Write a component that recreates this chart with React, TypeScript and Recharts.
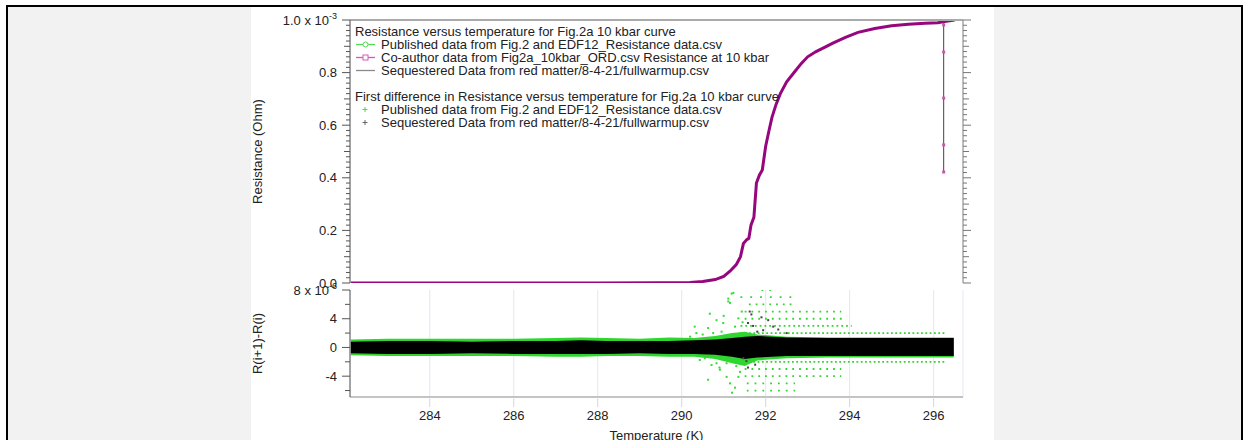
import React from 'react';
import { ComposedChart, Line, Area, Scatter, XAxis, YAxis, CartesianGrid } from 'recharts';

const FONT = '"Liberation Sans", Arial, Helvetica, sans-serif';
const INK = '#222';
const PURPLE = '#96067f';
const GREEN = '#2fd62f';

// upper panel: resistance (x 1e-3 Ohm) vs temperature (K)
const curveT = [282.12, 284, 286, 288, 289.5, 290.2, 290.5, 290.8, 291.0, 291.15, 291.3, 291.4, 291.47, 291.55, 291.6, 291.65, 291.72, 291.78, 291.85, 291.92, 292.0, 292.08, 292.15, 292.25, 292.35, 292.5, 292.7, 292.85, 293.0, 293.2, 293.45, 293.6, 293.9, 294.2, 294.6, 295.0, 295.4, 295.8, 296.1, 296.3, 296.5];
const curveR = [0, 0, 0, 0, 0.001, 0.002, 0.006, 0.013, 0.025, 0.045, 0.07, 0.1, 0.15, 0.165, 0.17, 0.22, 0.25, 0.38, 0.41, 0.43, 0.52, 0.58, 0.63, 0.68, 0.72, 0.765, 0.805, 0.835, 0.86, 0.88, 0.9, 0.912, 0.934, 0.953, 0.968, 0.978, 0.984, 0.988, 0.99, 0.995, 1.0];

// co-author points with the vertical bar near the end
const barTemp = 296.24;
const barTop = 1.0;
const barMarks = [0.981, 0.878, 0.703, 0.525, 0.422];

// lower panel: first difference (x 1e-6), dense band edges
const bandT = [282.12, 283, 284, 285, 286, 287, 287.6, 288.2, 289, 289.7, 290.3, 290.8, 291.2, 291.5, 291.8, 292.5, 293.5, 294.5, 295.5, 296.48];
const greenHi = [1.1, 1.2, 1.2, 1.2, 1.2, 1.3, 1.4, 1.3, 1.2, 1.4, 1.3, 1.6, 2.0, 2.2, 1.8, 1.5, 1.4, 1.4, 1.4, 1.4];
const greenLo = [-1.1, -1.2, -1.2, -1.2, -1.2, -1.3, -1.3, -1.2, -1.2, -1.3, -1.3, -1.6, -2.2, -2.6, -1.8, -1.5, -1.4, -1.4, -1.4, -1.4];
const blackHi = [0.8, 0.9, 0.9, 0.8, 0.9, 0.9, 1.0, 0.9, 0.9, 0.9, 1.0, 1.1, 1.3, 1.5, 1.6, 1.4, 1.3, 1.3, 1.3, 1.3];
const blackLo = [-0.8, -0.9, -0.9, -0.8, -0.9, -0.9, -0.9, -0.9, -0.8, -0.9, -0.9, -1.0, -1.3, -1.6, -1.4, -1.2, -1.2, -1.2, -1.2, -1.2];

// quantised rows of published-data differences
const rowLevel = [8, 7, 6, 5, 4, 3, 2, -2, -3, -4, -5, -6, -7];
const rowFrom = [291.9, 291.4, 291.6, 291.5, 291.5, 291.4, 291.4, 291.5, 291.5, 291.5, 291.55, 291.55, 291.55];
const rowTo = [292.2, 292.7, 292.65, 293.8, 293.9, 294.05, 296.3, 296.3, 293.8, 293.8, 292.7, 292.7, 292.7];
const rowGap = [6, 8, 5, 5, 5, 3, 2.5, 2.5, 5, 5, 6, 6, 6];

// loose points in the transition
const greenPtT = [291.23, 291.11, 291.15, 290.67, 290.83, 290.99, 290.63, 290.75, 290.35, 290.43, 290.71, 290.91, 291.07, 290.63, 291.15, 291.27, 291.35, 291.39, 291.07, 291.27, 291.35, 291.43, 290.95, 290.99, 290.55, 290.83, 291.2, 291.19, 290.31, 291.11, 290.5, 290.9, 291.3, 290.2, 291.45, 291.0];
const greenPtD = [7.6, 6.8, 6.2, 4.7, 3.8, 3.4, 2.7, 2.0, 2.0, -1.75, -2.45, -3.1, -4.1, -4.5, -5.0, -5.6, -4.1, -3.4, -2.2, 2.9, 4.05, 5.0, 2.2, -1.5, -1.5, -2.2, -6.3, 7.5, 2.9, 6.4, 1.8, -2.8, -2.6, 1.5, 3.5, 4.4];
const blackPtT = [291.62, 291.66, 291.58, 291.7, 292.06, 291.94, 292.18, 291.47, 291.54, 291.58, 291.8, 292.3, 291.75, 291.9, 292.5];
const blackPtD = [5.0, 4.6, 3.4, 3.0, 3.8, 2.4, 2.9, -1.5, -1.9, -2.8, 2.2, 2.5, -2.4, 4.2, 2.0];

const xTicks = [284, 286, 288, 290, 292, 294, 296];
const rTicks = Array.from({ length: 51 }, (_, i) => +(i * 0.02).toFixed(2));
const dTicks = [-6, -4, -2, 0, 2, 4, 6, 8];

const legendTop = 'Resistance versus temperature for Fig.2a 10 kbar curve';
const legendTopRows = [
  { label: 'Published data from Fig.2 and EDF12_Resistance data.csv', color: '#55d855', mark: 'circle' },
  { label: 'Co-author data from Fig2a_10kbar_ORD.csv Resistance at 10 kbar', color: '#dd55bb', mark: 'square' },
  { label: 'Sequestered Data from red matter/8-4-21/fullwarmup.csv', color: '#8a8a8a', mark: 'none' },
];
const legendBottom = 'First difference in Resistance versus temperature for Fig.2a 10 kbar curve';
const legendBottomRows = [
  { label: 'Published data from Fig.2 and EDF12_Resistance data.csv', color: '#44dd44' },
  { label: 'Sequestered Data from red matter/8-4-21/fullwarmup.csv', color: '#666' },
];

const curveData = curveT.map((t, i) => ({ t, r: curveR[i] }));
const barLine = [{ t: barTemp, r: barMarks[barMarks.length - 1] }, { t: barTemp, r: barTop }];
const barPts = barMarks.map((r) => ({ t: barTemp, r }));
const bandData = bandT.map((t, i) => ({ t, g: [greenLo[i], greenHi[i]], k: [blackLo[i], blackHi[i]] }));
const greenPts = greenPtT.map((t, i) => ({ t, d: greenPtD[i] }));
const blackPts = blackPtT.map((t, i) => ({ t, d: blackPtD[i] }));

const isMult = (v: number, step: number) => Math.abs(v / step - Math.round(v / step)) < 1e-6;

const RTickLeft = (props: any) => {
  const { x, y, payload } = props;
  const v = payload.value;
  const major = isMult(v, 0.2);
  const len = major ? 8 : isMult(v, 0.1) ? 6 : 4;
  return (
    <g>
      <line x1={x - len} x2={x} y1={y} y2={y} stroke="#555" />
      {major && (
        <text x={x - 13} y={y} dy="0.35em" textAnchor="end" fontSize={13} fill={INK}>
          {v === 1 ? (
            <>
              1.0 x 10<tspan dy={-6} fontSize={9}>-3</tspan>
            </>
          ) : (
            v.toFixed(1)
          )}
        </text>
      )}
    </g>
  );
};

const RTickRight = (props: any) => {
  const { x, y, payload } = props;
  const v = payload.value;
  const len = isMult(v, 0.2) ? 8 : isMult(v, 0.1) ? 6 : 4;
  return <line x1={x} x2={x + len} y1={y} y2={y} stroke="#777" />;
};

const DTick = (props: any) => {
  const { x, y, payload } = props;
  const v = payload.value;
  const major = isMult(v, 4);
  return (
    <g>
      <line x1={x - (major ? 8 : 5)} x2={x} y1={y} y2={y} stroke="#555" />
      {major && (
        <text x={x - 13} y={y} dy="0.35em" textAnchor="end" fontSize={13} fill={INK}>
          {v === 8 ? (
            <>
              8 x 10<tspan dy={-6} fontSize={9}>-6</tspan>
            </>
          ) : (
            String(v)
          )}
        </text>
      )}
    </g>
  );
};

const AxisTitle = (props: any) => {
  const vb = props.viewBox;
  if (!vb) return null;
  const x = vb.x + vb.width - 93;
  const y = vb.y + vb.height / 2;
  return (
    <text x={x} y={y} dy="0.35em" textAnchor="middle" fontSize={13} fill={INK} transform={`rotate(-90 ${x} ${y})`}>
      {props.text}
    </text>
  );
};

const PinkMark = (p: any) => <rect x={p.cx - 1.5} y={p.cy - 1.5} width={3} height={3} fill="#cc55aa" />;
const GreenDot = (p: any) => <rect x={p.cx - 1} y={p.cy - 1} width={2} height={2} fill="#33dd33" />;
const BlackDot = (p: any) => <rect x={p.cx - 1} y={p.cy - 1} width={2} height={2} fill="#444" />;

const LegendMark = ({ color, mark, plus }: { color: string; mark?: string; plus?: boolean }) => (
  <svg width={26} height={13} style={{ display: 'block', flex: 'none' }}>
    {plus ? (
      <g stroke={color} strokeWidth={1}>
        <line x1={7.5} x2={12.5} y1={6.5} y2={6.5} />
        <line x1={10} x2={10} y1={4} y2={9} />
      </g>
    ) : (
      <g>
        <line x1={1} x2={20} y1={6.5} y2={6.5} stroke={color} strokeWidth={1.3} />
        {mark === 'circle' && <circle cx={10.5} cy={6.5} r={2.5} fill="#fff" stroke={color} />}
        {mark === 'square' && <rect x={8} y={4} width={5} height={5} fill="#fff" stroke={color} />}
      </g>
    )}
  </svg>
);

const ChartLegend = () => {
  const row: React.CSSProperties = { display: 'flex', alignItems: 'center', height: 13, whiteSpace: 'nowrap' };
  return (
    <div style={{ position: 'absolute', left: 355, top: 25, fontSize: 13, lineHeight: '13px', color: INK }}>
      <div style={row}>{legendTop}</div>
      {legendTopRows.map((r) => (
        <div key={r.label} style={row}>
          <LegendMark color={r.color} mark={r.mark} />
          <span>{r.label}</span>
        </div>
      ))}
      <div style={row} />
      <div style={row}>{legendBottom}</div>
      {legendBottomRows.map((r) => (
        <div key={r.label} style={row}>
          <LegendMark color={r.color} plus />
          <span>{r.label}</span>
        </div>
      ))}
    </div>
  );
};

export default function App() {
  return (
    <div style={{ position: 'absolute', left: 0, top: 0, width: 1249, height: 440, overflow: 'hidden', fontFamily: FONT }}>
      <div style={{ position: 'absolute', left: 6, top: 5, width: 1233, height: 440, border: '2px solid #000', background: '#f2f2f2' }} />
      <div style={{ position: 'absolute', left: 251, top: 7, width: 743, height: 433, background: '#fff' }} />

      {/* lower panel: first differences */}
      <div style={{ position: 'absolute', left: 0, top: 0 }}>
        <ComposedChart width={1249} height={440} data={bandData} margin={{ top: 290, right: 286, bottom: 0, left: 290 }}>
          <CartesianGrid vertical horizontal={false} stroke="#e6e6f4" />
          <XAxis
            type="number"
            dataKey="t"
            domain={[282.1, 296.7]}
            allowDataOverflow
            ticks={xTicks}
            interval={0}
            height={43}
            tickSize={10}
            tickMargin={4}
            tickLine={{ stroke: '#d4d4e8' }}
            axisLine={{ stroke: '#888' }}
            tick={{ fontSize: 13, fill: INK }}
            label={{ value: 'Temperature (K)', position: 'insideBottom', offset: 0, fontSize: 13, fill: INK }}
          />
          <YAxis
            type="number"
            dataKey="d"
            domain={[-6.9, 8]}
            allowDataOverflow
            ticks={dTicks}
            interval={0}
            width={60}
            tickSize={0}
            tickMargin={0}
            tickLine={false}
            axisLine={{ stroke: '#555' }}
            tick={(p: any) => <DTick {...p} />}
            label={<AxisTitle text="R(i+1)-R(i)" />}
          />
          <Area dataKey="g" type="linear" stroke="none" fill={GREEN} fillOpacity={1} isAnimationActive={false} />
          <Area dataKey="k" type="linear" stroke="none" fill="#000" fillOpacity={1} isAnimationActive={false} />
          {rowLevel.map((lv, i) => (
            <Line
              key={'row' + i}
              data={[{ t: rowFrom[i], d: lv }, { t: rowTo[i], d: lv }]}
              dataKey="d"
              stroke={GREEN}
              strokeWidth={1.8}
              strokeDasharray={`1.8 ${rowGap[i]}`}
              dot={false}
              isAnimationActive={false}
            />
          ))}
          <Scatter data={greenPts} shape={GreenDot} isAnimationActive={false} />
          <Scatter data={blackPts} shape={BlackDot} isAnimationActive={false} />
        </ComposedChart>
      </div>

      {/* upper panel: resistance */}
      <div style={{ position: 'absolute', left: 0, top: 0 }}>
        <ComposedChart width={1249} height={300} data={curveData} margin={{ top: 10, right: 256, bottom: 17, left: 290 }}>
          <CartesianGrid vertical horizontal={false} stroke="#e6e6f4" yAxisId="l" />
          <XAxis
            type="number"
            dataKey="t"
            orientation="top"
            domain={[282.1, 296.7]}
            allowDataOverflow
            ticks={xTicks}
            interval={0}
            height={10}
            tick={false}
            tickSize={9}
            tickLine={{ stroke: '#555' }}
            axisLine={{ stroke: '#aaa', strokeWidth: 2 }}
          />
          <YAxis
            yAxisId="l"
            type="number"
            dataKey="r"
            domain={[0, 1]}
            allowDataOverflow
            ticks={rTicks}
            interval={0}
            width={60}
            tickSize={0}
            tickMargin={0}
            tickLine={false}
            axisLine={{ stroke: '#555' }}
            tick={(p: any) => <RTickLeft {...p} />}
            label={<AxisTitle text="Resistance (Ohm)" />}
          />
          <YAxis
            yAxisId="r"
            orientation="right"
            type="number"
            dataKey="r"
            domain={[0, 1]}
            allowDataOverflow
            ticks={rTicks}
            interval={0}
            width={30}
            tickSize={0}
            tickMargin={0}
            tickLine={false}
            axisLine={{ stroke: '#888' }}
            tick={(p: any) => <RTickRight {...p} />}
          />
          <Line yAxisId="l" dataKey="r" type="linear" stroke={PURPLE} strokeWidth={3} dot={false} isAnimationActive={false} />
          <Line yAxisId="r" data={barLine} dataKey="r" stroke="#444" strokeWidth={1} dot={false} isAnimationActive={false} />
          <Scatter yAxisId="r" data={barPts} shape={PinkMark} isAnimationActive={false} />
        </ComposedChart>
      </div>

      <ChartLegend />
    </div>
  );
}
